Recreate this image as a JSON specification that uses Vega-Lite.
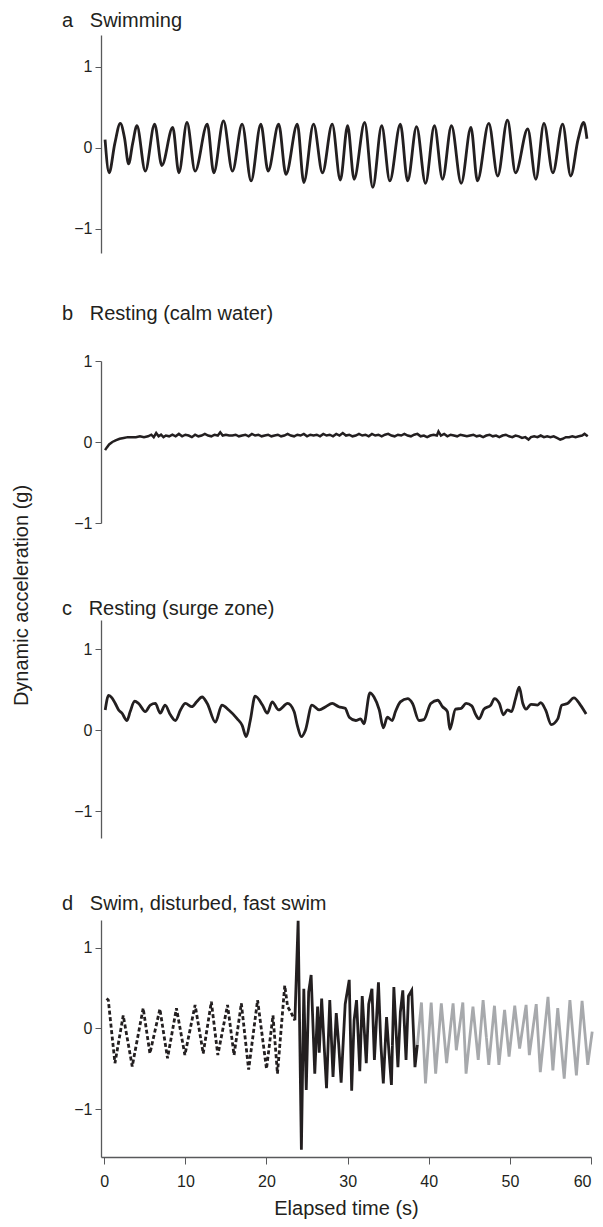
{
  "$schema": "https://vega.github.io/schema/vega-lite/v6.json",
  "background": "white",
  "padding": {"left": 11, "top": 11, "right": 2, "bottom": 3},
  "bounds": "flush",
  "spacing": 0,
  "config": {
    "font": "Liberation Sans",
    "view": {"stroke": null},
    "axis": {
      "grid": false,
      "domainColor": "#58595b",
      "domainWidth": 1.3,
      "tickColor": "#58595b",
      "tickSize": 6,
      "labelFontSize": 16,
      "labelColor": "#231f20",
      "labelPadding": 3,
      "format": "d",
      "titleFontWeight": "normal",
      "titleColor": "#231f20",
      "titleFontSize": 20
    },
    "title": {"anchor": "start", "frame": "group", "fontWeight": "normal", "fontSize": 20, "color": "#231f20"}
  },
  "datasets": {
    "a": [
      {"t": 0.1, "v": 0.10}, {"t": 0.6, "v": -0.31}, {"t": 1.3, "v": 0.05}, {"t": 1.98, "v": 0.30}, {"t": 2.5, "v": 0.12}, {"t": 3.0, "v": -0.20}, {"t": 3.5, "v": 0.05}, {"t": 4.03, "v": 0.27},
      {"t": 5.06, "v": -0.29}, {"t": 6.21, "v": 0.29}, {"t": 7.1, "v": -0.22}, {"t": 8.44, "v": 0.25}, {"t": 9.2, "v": -0.31}, {"t": 10.2, "v": 0.31},
      {"t": 11.2, "v": -0.29}, {"t": 12.7, "v": 0.29}, {"t": 13.5, "v": -0.31}, {"t": 14.7, "v": 0.33}, {"t": 15.8, "v": -0.29}, {"t": 17.0, "v": 0.29},
      {"t": 18.1, "v": -0.41}, {"t": 19.3, "v": 0.29}, {"t": 20.2, "v": -0.29}, {"t": 21.5, "v": 0.29}, {"t": 22.4, "v": -0.33}, {"t": 23.8, "v": 0.29},
      {"t": 24.6, "v": -0.43}, {"t": 25.8, "v": 0.29}, {"t": 26.9, "v": -0.31}, {"t": 28.1, "v": 0.29}, {"t": 29.1, "v": -0.40}, {"t": 30.0, "v": 0.27},
      {"t": 30.8, "v": -0.39}, {"t": 32.1, "v": 0.31}, {"t": 33.1, "v": -0.49}, {"t": 34.2, "v": 0.27}, {"t": 35.2, "v": -0.41}, {"t": 36.5, "v": 0.29},
      {"t": 37.4, "v": -0.41}, {"t": 38.5, "v": 0.26}, {"t": 39.6, "v": -0.44}, {"t": 40.7, "v": 0.27}, {"t": 41.7, "v": -0.39}, {"t": 42.8, "v": 0.27},
      {"t": 44.0, "v": -0.44}, {"t": 45.2, "v": 0.25}, {"t": 46.0, "v": -0.41}, {"t": 47.4, "v": 0.30}, {"t": 48.5, "v": -0.35}, {"t": 49.7, "v": 0.34},
      {"t": 50.7, "v": -0.31}, {"t": 52.2, "v": 0.23}, {"t": 53.2, "v": -0.39}, {"t": 54.2, "v": 0.30}, {"t": 55.3, "v": -0.31}, {"t": 56.5, "v": 0.29},
      {"t": 57.5, "v": -0.35}, {"t": 58.4, "v": 0.10}, {"t": 59.1, "v": 0.31}, {"t": 59.5, "v": 0.11}
    ],
    "b": [
      {"t": 0.1, "v": -0.10}, {"t": 0.3, "v": -0.07}, {"t": 0.6, "v": -0.03}, {"t": 1.0, "v": 0.00}, {"t": 1.4, "v": 0.02}, {"t": 1.9, "v": 0.04}, {"t": 2.4, "v": 0.05}, {"t": 2.9, "v": 0.06},
      {"t": 3.4, "v": 0.06}, {"t": 3.9, "v": 0.06}, {"t": 4.4, "v": 0.07}, {"t": 4.9, "v": 0.06}, {"t": 5.4, "v": 0.07}, {"t": 5.8, "v": 0.09}, {"t": 6.1, "v": 0.06}, {"t": 6.4, "v": 0.11},
      {"t": 6.7, "v": 0.07}, {"t": 7.0, "v": 0.09}, {"t": 7.3, "v": 0.06}, {"t": 7.6, "v": 0.08}, {"t": 8.0, "v": 0.07}, {"t": 8.4, "v": 0.09}, {"t": 8.8, "v": 0.07}, {"t": 9.2, "v": 0.10},
      {"t": 9.6, "v": 0.07}, {"t": 10.0, "v": 0.09}, {"t": 10.4, "v": 0.08}, {"t": 10.8, "v": 0.06}, {"t": 11.2, "v": 0.09}, {"t": 11.6, "v": 0.07}, {"t": 12.0, "v": 0.08}, {"t": 12.4, "v": 0.10},
      {"t": 12.8, "v": 0.08}, {"t": 13.2, "v": 0.07}, {"t": 13.6, "v": 0.09}, {"t": 14.0, "v": 0.08}, {"t": 14.3, "v": 0.12}, {"t": 14.6, "v": 0.08}, {"t": 15.0, "v": 0.09}, {"t": 15.4, "v": 0.08},
      {"t": 15.8, "v": 0.08}, {"t": 16.2, "v": 0.09}, {"t": 16.6, "v": 0.07}, {"t": 17.0, "v": 0.08}, {"t": 17.4, "v": 0.09}, {"t": 17.8, "v": 0.07}, {"t": 18.2, "v": 0.10}, {"t": 18.6, "v": 0.08},
      {"t": 19.0, "v": 0.09}, {"t": 19.4, "v": 0.07}, {"t": 19.8, "v": 0.08}, {"t": 20.2, "v": 0.09}, {"t": 20.6, "v": 0.07}, {"t": 21.0, "v": 0.08}, {"t": 21.4, "v": 0.09}, {"t": 21.8, "v": 0.07},
      {"t": 22.2, "v": 0.08}, {"t": 22.6, "v": 0.10}, {"t": 23.0, "v": 0.08}, {"t": 23.4, "v": 0.07}, {"t": 23.8, "v": 0.09}, {"t": 24.2, "v": 0.08}, {"t": 24.6, "v": 0.10}, {"t": 25.0, "v": 0.07},
      {"t": 25.4, "v": 0.09}, {"t": 25.8, "v": 0.08}, {"t": 26.2, "v": 0.09}, {"t": 26.6, "v": 0.07}, {"t": 27.0, "v": 0.10}, {"t": 27.4, "v": 0.08}, {"t": 27.8, "v": 0.09}, {"t": 28.2, "v": 0.07},
      {"t": 28.6, "v": 0.10}, {"t": 29.0, "v": 0.08}, {"t": 29.4, "v": 0.11}, {"t": 29.8, "v": 0.08}, {"t": 30.2, "v": 0.09}, {"t": 30.6, "v": 0.07}, {"t": 31.0, "v": 0.08}, {"t": 31.4, "v": 0.10},
      {"t": 31.8, "v": 0.08}, {"t": 32.2, "v": 0.09}, {"t": 32.6, "v": 0.07}, {"t": 33.0, "v": 0.10}, {"t": 33.4, "v": 0.08}, {"t": 33.8, "v": 0.09}, {"t": 34.2, "v": 0.07}, {"t": 34.6, "v": 0.09},
      {"t": 35.0, "v": 0.10}, {"t": 35.4, "v": 0.08}, {"t": 35.8, "v": 0.07}, {"t": 36.2, "v": 0.09}, {"t": 36.6, "v": 0.08}, {"t": 37.0, "v": 0.10}, {"t": 37.4, "v": 0.08}, {"t": 37.8, "v": 0.07},
      {"t": 38.2, "v": 0.09}, {"t": 38.6, "v": 0.10}, {"t": 39.0, "v": 0.07}, {"t": 39.4, "v": 0.08}, {"t": 39.8, "v": 0.06}, {"t": 40.2, "v": 0.08}, {"t": 40.6, "v": 0.09}, {"t": 41.0, "v": 0.08},
      {"t": 41.2, "v": 0.13}, {"t": 41.5, "v": 0.08}, {"t": 41.9, "v": 0.10}, {"t": 42.3, "v": 0.07}, {"t": 42.7, "v": 0.09}, {"t": 43.1, "v": 0.08}, {"t": 43.5, "v": 0.07}, {"t": 43.9, "v": 0.09},
      {"t": 44.3, "v": 0.08}, {"t": 44.7, "v": 0.07}, {"t": 45.1, "v": 0.08}, {"t": 45.5, "v": 0.09}, {"t": 45.9, "v": 0.07}, {"t": 46.3, "v": 0.08}, {"t": 46.7, "v": 0.06}, {"t": 47.1, "v": 0.08},
      {"t": 47.5, "v": 0.09}, {"t": 47.9, "v": 0.07}, {"t": 48.3, "v": 0.08}, {"t": 48.7, "v": 0.06}, {"t": 49.1, "v": 0.08}, {"t": 49.5, "v": 0.09}, {"t": 49.9, "v": 0.07}, {"t": 50.3, "v": 0.06},
      {"t": 50.7, "v": 0.08}, {"t": 51.1, "v": 0.07}, {"t": 51.5, "v": 0.05}, {"t": 51.9, "v": 0.06}, {"t": 52.3, "v": 0.03}, {"t": 52.6, "v": 0.06}, {"t": 53.0, "v": 0.07}, {"t": 53.4, "v": 0.06},
      {"t": 53.8, "v": 0.08}, {"t": 54.2, "v": 0.06}, {"t": 54.6, "v": 0.07}, {"t": 55.0, "v": 0.06}, {"t": 55.4, "v": 0.07}, {"t": 55.8, "v": 0.05}, {"t": 56.2, "v": 0.03}, {"t": 56.5, "v": 0.04},
      {"t": 56.9, "v": 0.06}, {"t": 57.3, "v": 0.06}, {"t": 57.7, "v": 0.07}, {"t": 58.1, "v": 0.06}, {"t": 58.5, "v": 0.07}, {"t": 58.9, "v": 0.08}, {"t": 59.2, "v": 0.10}, {"t": 59.6, "v": 0.07}
    ],
    "c": [
      {"t": 0.12, "v": 0.25}, {"t": 0.54, "v": 0.43}, {"t": 0.95, "v": 0.40}, {"t": 1.36, "v": 0.33}, {"t": 1.77, "v": 0.25}, {"t": 2.18, "v": 0.21}, {"t": 2.8, "v": 0.12}, {"t": 3.2, "v": 0.23},
      {"t": 3.74, "v": 0.36}, {"t": 4.24, "v": 0.33}, {"t": 5.06, "v": 0.23}, {"t": 5.68, "v": 0.31}, {"t": 6.3, "v": 0.33}, {"t": 6.9, "v": 0.21}, {"t": 7.5, "v": 0.31}, {"t": 8.15, "v": 0.19},
      {"t": 8.77, "v": 0.12}, {"t": 9.4, "v": 0.25}, {"t": 10.0, "v": 0.33}, {"t": 10.8, "v": 0.29}, {"t": 11.4, "v": 0.35}, {"t": 12.06, "v": 0.41}, {"t": 12.7, "v": 0.33}, {"t": 13.7, "v": 0.10},
      {"t": 14.5, "v": 0.31}, {"t": 15.35, "v": 0.25}, {"t": 16.4, "v": 0.14}, {"t": 17.0, "v": 0.06}, {"t": 17.5, "v": -0.08}, {"t": 18.0, "v": 0.12}, {"t": 18.6, "v": 0.42}, {"t": 19.5, "v": 0.31},
      {"t": 20.1, "v": 0.21}, {"t": 20.7, "v": 0.35}, {"t": 21.5, "v": 0.25}, {"t": 22.6, "v": 0.33}, {"t": 23.4, "v": 0.23}, {"t": 23.8, "v": 0.06}, {"t": 24.3, "v": -0.08}, {"t": 24.8, "v": 0.00},
      {"t": 25.6, "v": 0.31}, {"t": 26.5, "v": 0.25}, {"t": 27.3, "v": 0.29}, {"t": 28.1, "v": 0.33}, {"t": 28.9, "v": 0.29}, {"t": 29.7, "v": 0.27}, {"t": 30.2, "v": 0.16}, {"t": 31.0, "v": 0.12},
      {"t": 31.6, "v": 0.14}, {"t": 32.0, "v": 0.08}, {"t": 32.75, "v": 0.46}, {"t": 33.25, "v": 0.41}, {"t": 33.9, "v": 0.25}, {"t": 34.4, "v": 0.03}, {"t": 34.9, "v": 0.16}, {"t": 35.5, "v": 0.12},
      {"t": 35.9, "v": 0.23}, {"t": 36.5, "v": 0.35}, {"t": 37.4, "v": 0.39}, {"t": 38.0, "v": 0.33}, {"t": 38.8, "v": 0.12}, {"t": 39.4, "v": 0.13}, {"t": 40.25, "v": 0.33}, {"t": 41.1, "v": 0.37},
      {"t": 41.7, "v": 0.29}, {"t": 42.3, "v": 0.23}, {"t": 42.6, "v": 0.01}, {"t": 43.3, "v": 0.26}, {"t": 44.0, "v": 0.27}, {"t": 44.6, "v": 0.33}, {"t": 45.3, "v": 0.30}, {"t": 45.8, "v": 0.19},
      {"t": 46.2, "v": 0.14}, {"t": 46.8, "v": 0.26}, {"t": 47.65, "v": 0.31}, {"t": 48.1, "v": 0.39}, {"t": 48.7, "v": 0.33}, {"t": 49.2, "v": 0.19}, {"t": 49.7, "v": 0.25}, {"t": 50.2, "v": 0.23},
      {"t": 50.7, "v": 0.39}, {"t": 51.15, "v": 0.53}, {"t": 51.6, "v": 0.33}, {"t": 52.0, "v": 0.26}, {"t": 52.6, "v": 0.32}, {"t": 53.4, "v": 0.31}, {"t": 53.8, "v": 0.34}, {"t": 54.4, "v": 0.25},
      {"t": 55.1, "v": 0.07}, {"t": 55.9, "v": 0.14}, {"t": 56.4, "v": 0.31}, {"t": 57.1, "v": 0.33}, {"t": 57.9, "v": 0.40}, {"t": 58.7, "v": 0.31}, {"t": 59.4, "v": 0.20}
    ],
    "d": [
      {"t": 0.29, "v": 0.37, "s": "swim"}, {"t": 0.5, "v": 0.35, "s": "swim"}, {"t": 1.32, "v": -0.43, "s": "swim"}, {"t": 2.34, "v": 0.16, "s": "swim"}, {"t": 3.45, "v": -0.47, "s": "swim"},
      {"t": 4.8, "v": 0.25, "s": "swim"}, {"t": 5.63, "v": -0.31, "s": "swim"}, {"t": 6.86, "v": 0.24, "s": "swim"}, {"t": 7.8, "v": -0.37, "s": "swim"}, {"t": 8.9, "v": 0.25, "s": "swim"},
      {"t": 9.94, "v": -0.33, "s": "swim"}, {"t": 11.2, "v": 0.29, "s": "swim"}, {"t": 12.2, "v": -0.31, "s": "swim"}, {"t": 13.2, "v": 0.33, "s": "swim"}, {"t": 14.0, "v": -0.33, "s": "swim"},
      {"t": 15.2, "v": 0.29, "s": "swim"}, {"t": 16.0, "v": -0.33, "s": "swim"}, {"t": 16.9, "v": 0.31, "s": "swim"}, {"t": 17.8, "v": -0.51, "s": "swim"}, {"t": 18.9, "v": 0.35, "s": "swim"},
      {"t": 20.0, "v": -0.50, "s": "swim"}, {"t": 20.8, "v": 0.16, "s": "swim"}, {"t": 21.35, "v": -0.56, "s": "swim"}, {"t": 22.25, "v": 0.53, "s": "swim"}, {"t": 22.6, "v": 0.27, "s": "swim"},
      {"t": 23.0, "v": 0.20, "s": "swim"}, {"t": 23.5, "v": 0.10, "s": "swim"},
      {"t": 23.5, "v": 0.10, "s": "dist"}, {"t": 23.9, "v": 1.33, "s": "dist"}, {"t": 24.3, "v": -1.50, "s": "dist"}, {"t": 24.6, "v": 0.49, "s": "dist"}, {"t": 24.9, "v": -0.76, "s": "dist"},
      {"t": 25.2, "v": 0.45, "s": "dist"}, {"t": 25.5, "v": 0.66, "s": "dist"}, {"t": 25.95, "v": -0.56, "s": "dist"}, {"t": 26.3, "v": 0.27, "s": "dist"}, {"t": 26.5, "v": -0.30, "s": "dist"},
      {"t": 26.8, "v": 0.37, "s": "dist"}, {"t": 27.1, "v": -0.20, "s": "dist"}, {"t": 27.4, "v": -0.74, "s": "dist"}, {"t": 27.8, "v": 0.35, "s": "dist"}, {"t": 28.2, "v": -0.60, "s": "dist"},
      {"t": 28.6, "v": 0.19, "s": "dist"}, {"t": 28.9, "v": -0.20, "s": "dist"}, {"t": 29.2, "v": -0.67, "s": "dist"}, {"t": 29.7, "v": 0.30, "s": "dist"}, {"t": 30.2, "v": 0.60, "s": "dist"},
      {"t": 30.5, "v": -0.77, "s": "dist"}, {"t": 30.8, "v": 0.10, "s": "dist"}, {"t": 31.1, "v": 0.35, "s": "dist"}, {"t": 31.5, "v": -0.53, "s": "dist"}, {"t": 31.8, "v": 0.40, "s": "dist"},
      {"t": 32.3, "v": -0.43, "s": "dist"}, {"t": 32.6, "v": 0.30, "s": "dist"}, {"t": 33.0, "v": 0.49, "s": "dist"}, {"t": 33.3, "v": -0.39, "s": "dist"}, {"t": 33.8, "v": 0.57, "s": "dist"},
      {"t": 34.1, "v": -0.20, "s": "dist"}, {"t": 34.4, "v": -0.68, "s": "dist"}, {"t": 34.8, "v": 0.14, "s": "dist"}, {"t": 35.1, "v": -0.30, "s": "dist"}, {"t": 35.4, "v": -0.70, "s": "dist"},
      {"t": 35.7, "v": 0.51, "s": "dist"}, {"t": 36.2, "v": -0.48, "s": "dist"}, {"t": 36.5, "v": 0.20, "s": "dist"}, {"t": 36.8, "v": 0.47, "s": "dist"}, {"t": 37.2, "v": -0.39, "s": "dist"},
      {"t": 37.5, "v": 0.40, "s": "dist"}, {"t": 37.9, "v": 0.47, "s": "dist"}, {"t": 38.3, "v": -0.48, "s": "dist"}, {"t": 38.6, "v": -0.20, "s": "dist"},
      {"t": 38.6, "v": -0.20, "s": "fast"}, {"t": 39.1, "v": 0.32, "s": "fast"}, {"t": 39.6, "v": -0.68, "s": "fast"}, {"t": 40.3, "v": 0.32, "s": "fast"}, {"t": 40.85, "v": -0.56, "s": "fast"},
      {"t": 41.55, "v": 0.31, "s": "fast"}, {"t": 42.2, "v": -0.43, "s": "fast"}, {"t": 43.0, "v": 0.31, "s": "fast"}, {"t": 43.4, "v": -0.27, "s": "fast"}, {"t": 44.2, "v": 0.32, "s": "fast"},
      {"t": 44.6, "v": -0.56, "s": "fast"}, {"t": 45.45, "v": 0.27, "s": "fast"}, {"t": 46.1, "v": -0.39, "s": "fast"}, {"t": 46.7, "v": 0.35, "s": "fast"}, {"t": 47.4, "v": -0.45, "s": "fast"},
      {"t": 48.1, "v": 0.28, "s": "fast"}, {"t": 48.65, "v": -0.45, "s": "fast"}, {"t": 49.35, "v": 0.23, "s": "fast"}, {"t": 49.9, "v": -0.35, "s": "fast"}, {"t": 50.6, "v": 0.28, "s": "fast"},
      {"t": 51.2, "v": -0.25, "s": "fast"}, {"t": 52.0, "v": 0.29, "s": "fast"}, {"t": 52.4, "v": -0.33, "s": "fast"}, {"t": 53.25, "v": 0.30, "s": "fast"}, {"t": 53.75, "v": -0.54, "s": "fast"},
      {"t": 54.7, "v": 0.39, "s": "fast"}, {"t": 55.3, "v": -0.52, "s": "fast"}, {"t": 55.9, "v": 0.25, "s": "fast"}, {"t": 56.7, "v": -0.62, "s": "fast"}, {"t": 57.4, "v": 0.35, "s": "fast"},
      {"t": 58.2, "v": -0.58, "s": "fast"}, {"t": 58.9, "v": 0.34, "s": "fast"}, {"t": 59.6, "v": -0.45, "s": "fast"}, {"t": 60.15, "v": -0.04, "s": "fast"}
    ]
  },
  "vconcat": [
    {
      "width": 490, "height": 326,
      "title": {"text": "a\u00a0\u00a0\u00a0Swimming", "dx": -39, "offset": 4},
      "data": {"name": "a"},
      "mark": {"type": "line", "interpolate": "monotone", "color": "#231f20", "strokeWidth": 2.8},
      "encoding": {
        "x": {"field": "t", "type": "quantitative", "scale": {"domain": [-0.4, 60], "nice": false, "zero": false}, "axis": null},
        "y": {"field": "v", "type": "quantitative", "scale": {"domain": [-1.3, 1.39], "range": [218, 0], "nice": false, "zero": false}, "axis": {"values": [-1, 0, 1], "title": null}}
      }
    },
    {
      "width": 490, "height": 259,
      "title": {"text": "b\u00a0\u00a0\u00a0Resting (calm water)", "dx": -39, "offset": 29},
      "data": {"name": "b"},
      "mark": {"type": "line", "interpolate": "linear", "color": "#231f20", "strokeWidth": 2.5},
      "encoding": {
        "x": {"field": "t", "type": "quantitative", "scale": {"domain": [-0.4, 60], "nice": false, "zero": false}, "axis": null},
        "y": {"field": "v", "type": "quantitative", "scale": {"domain": [-1, 1], "range": [162, 0], "nice": false, "zero": false},
              "axis": {"values": [-1, 0, 1], "title": "Dynamic acceleration (g)", "titleX": -80, "titleY": 234, "titleBaseline": "middle", "titleAngle": -90, "titleAlign": "center"}}
      }
    },
    {
      "width": 490, "height": 300,
      "title": {"text": "c\u00a0\u00a0\u00a0Resting (surge zone)", "dx": -39, "offset": 1},
      "data": {"name": "c"},
      "mark": {"type": "line", "interpolate": "monotone", "color": "#231f20", "strokeWidth": 2.8},
      "encoding": {
        "x": {"field": "t", "type": "quantitative", "scale": {"domain": [-0.4, 60], "nice": false, "zero": false}, "axis": null},
        "y": {"field": "v", "type": "quantitative", "scale": {"domain": [-1.33, 1.36], "range": [218, 0], "nice": false, "zero": false}, "axis": {"values": [-1, 0, 1], "title": null}}
      }
    },
    {
      "width": 490, "height": 237,
      "title": {"text": "d\u00a0\u00a0\u00a0Swim, disturbed, fast swim", "dx": -39, "offset": 1},
      "data": {"name": "d"},
      "mark": {"type": "line", "interpolate": "linear", "strokeWidth": 2.8},
      "encoding": {
        "x": {"field": "t", "type": "quantitative", "scale": {"domain": [-0.4, 60], "nice": false, "zero": false},
              "axis": {"values": [0, 10, 20, 30, 40, 50, 60], "title": "Elapsed time (s)", "titlePadding": 9, "tickSize": 7, "labelPadding": 9}},
        "y": {"field": "v", "type": "quantitative", "scale": {"domain": [-1.59, 1.34], "nice": false, "zero": false}, "axis": {"values": [-1, 0, 1], "title": null}},
        "color": {"field": "s", "type": "nominal", "scale": {"domain": ["swim", "dist", "fast"], "range": ["#231f20", "#231f20", "#a7a9ac"]}, "legend": null},
        "strokeDash": {"field": "s", "type": "nominal", "scale": {"domain": ["swim", "dist", "fast"], "range": [[4, 2.5], [1, 0], [1, 0]]}, "legend": null}
      }
    }
  ]
}
